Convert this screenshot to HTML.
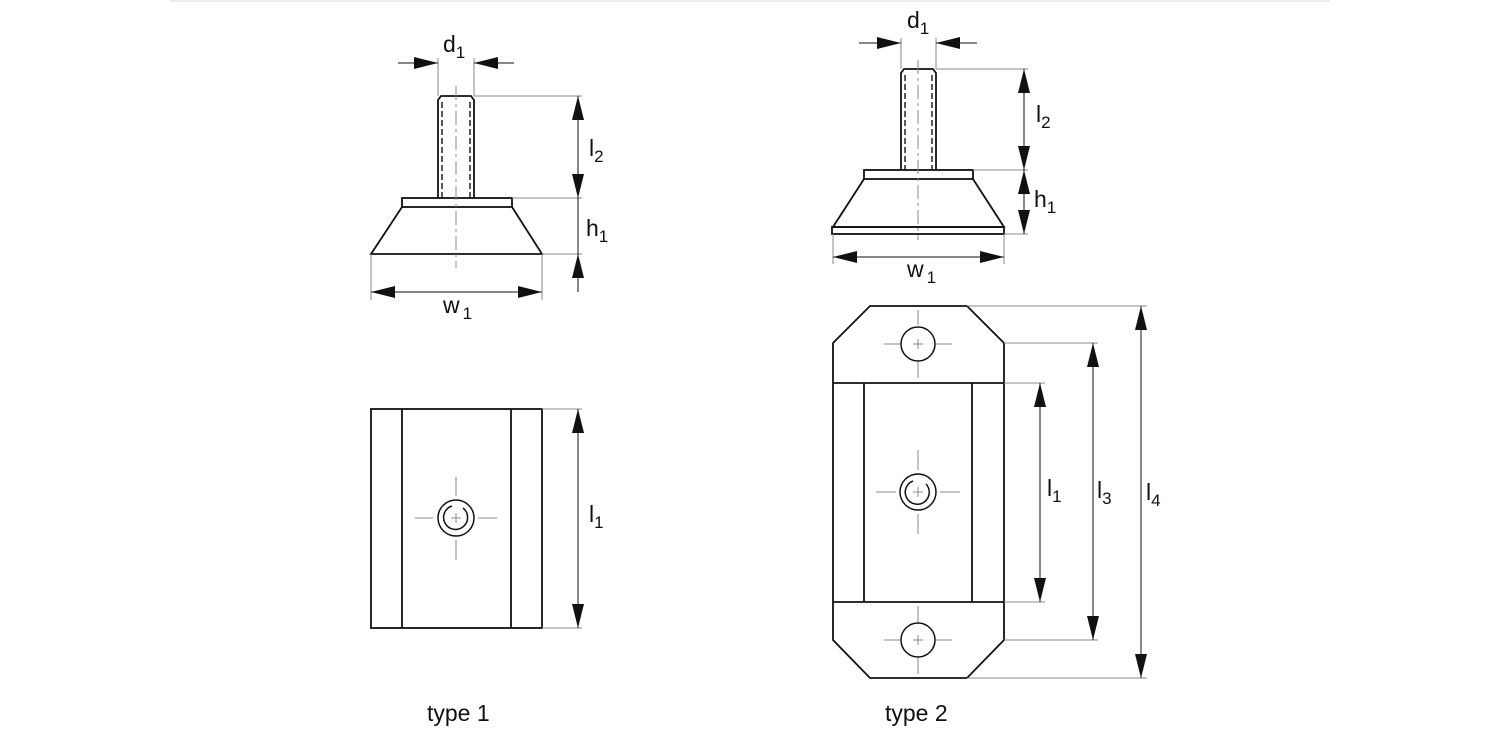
<!DOCTYPE html>
<html><head><meta charset="utf-8"><style>
html,body{margin:0;padding:0;background:#fff;}
svg{display:block;font-family:"Liberation Sans",Arial,sans-serif;}
</style></head><body>
<svg width="1500" height="750" viewBox="0 0 1500 750" xmlns="http://www.w3.org/2000/svg">
<defs>
<marker id="a" viewBox="0 0 24 12" refX="24" refY="6" markerWidth="24" markerHeight="12" markerUnits="userSpaceOnUse" orient="auto-start-reverse">
<path d="M0,0 L24,6 L0,12 Z" fill="#111"/>
</marker>
</defs>
<line x1="170" y1="1" x2="1330" y2="1" stroke="#ddd" stroke-width="1"/>
<g fill="none" stroke="#111" stroke-width="1.8">
<path d="M438,198 V100 L441,96 H471 L474,100 V198"/>
<rect x="402" y="198" width="110" height="9"/>
<path d="M402,207 L371,254 H542 L512,207"/>
<rect x="371" y="409" width="171" height="219"/>
<line x1="402" y1="409" x2="402" y2="628"/>
<line x1="511" y1="409" x2="511" y2="628"/>
<circle cx="456" cy="518" r="18" stroke-width="1.5"/>
<path d="M463,508 A12,12 0 1 1 452,506" stroke-width="1.5"/>
<path d="M901,170 V73 L904,69 H933 L936,73 V170"/>
<rect x="864" y="170" width="109" height="9"/>
<path d="M864,179 L833,227 H1004 L973,179"/>
<rect x="832" y="227" width="172" height="7"/>
<path d="M870,306 H967 L1004,343 V640 L967,678 H870 L833,640 V343 Z"/>
<line x1="833" y1="383" x2="1004" y2="383"/>
<line x1="833" y1="602" x2="1004" y2="602"/>
<line x1="864" y1="383" x2="864" y2="602"/>
<line x1="972" y1="383" x2="972" y2="602"/>
<circle cx="918" cy="344" r="17" stroke-width="1.5"/>
<circle cx="918" cy="640" r="17" stroke-width="1.5"/>
<circle cx="918" cy="492" r="18" stroke-width="1.5"/>
<path d="M926,484 A12,12 0 1 1 913,481" stroke-width="1.5"/>
</g>
<g fill="none" stroke="#111" stroke-width="1.4" stroke-dasharray="6,3">
<line x1="442" y1="102" x2="442" y2="198"/>
<line x1="470" y1="102" x2="470" y2="198"/>
<line x1="905" y1="75" x2="905" y2="170"/>
<line x1="932" y1="75" x2="932" y2="170"/>
</g>
<g fill="none" stroke="#888" stroke-width="1">
<line x1="456" y1="86" x2="456" y2="268" stroke-dasharray="14,4,3,4"/>
<line x1="918" y1="60" x2="918" y2="240" stroke-dasharray="14,4,3,4"/>
<path d="M456,477V496 M456,540V560 M415,518H433 M478,518H497"/>
<path d="M918,450V470 M918,514V534 M876,492H896 M940,492H960"/>
<path d="M918,310V325 M918,362V378 M884,344H900 M936,344H952 M913,344H923 M918,339V349"/>
<path d="M918,606V622 M918,658V674 M884,640H900 M936,640H952 M913,640H923 M918,635V645"/>
<path d="M451,518H461 M456,513V523 M913,492H923 M918,487V497"/>
<path d="M438,96V58 M474,96V58 M474,96H582 M512,198H582 M542,254H582 M371,254V300 M542,254V300"/>
<path d="M542,409H582 M542,628H582"/>
<path d="M901,69V38 M936,69V38 M936,69H1028 M973,170H1028 M1004,234H1028 M833,234V264 M1004,234V264"/>
<path d="M967,306H1147 M967,678H1147 M1004,343H1098 M1004,640H1098 M1004,383H1045 M1004,602H1045"/>
</g>
<g stroke="#111" stroke-width="1" fill="none">
<line x1="398" y1="63" x2="438" y2="63" marker-end="url(#a)"/>
<line x1="514" y1="63" x2="474" y2="63" marker-end="url(#a)"/>
<line x1="578" y1="96" x2="578" y2="198" marker-start="url(#a)" marker-end="url(#a)"/>
<line x1="578" y1="292" x2="578" y2="254" marker-end="url(#a)"/>
<line x1="578" y1="198" x2="578" y2="254"/>
<line x1="371" y1="292" x2="542" y2="292" marker-start="url(#a)" marker-end="url(#a)"/>
<line x1="578" y1="409" x2="578" y2="628" marker-start="url(#a)" marker-end="url(#a)"/>
<line x1="859" y1="43" x2="901" y2="43" marker-end="url(#a)"/>
<line x1="977" y1="43" x2="936" y2="43" marker-end="url(#a)"/>
<line x1="1024" y1="69" x2="1024" y2="170" marker-start="url(#a)" marker-end="url(#a)"/>
<line x1="1024" y1="170" x2="1024" y2="234" marker-start="url(#a)" marker-end="url(#a)"/>
<line x1="833" y1="257" x2="1004" y2="257" marker-start="url(#a)" marker-end="url(#a)"/>
<line x1="1040" y1="383" x2="1040" y2="602" marker-start="url(#a)" marker-end="url(#a)"/>
<line x1="1093" y1="343" x2="1093" y2="640" marker-start="url(#a)" marker-end="url(#a)"/>
<line x1="1141" y1="306" x2="1141" y2="678" marker-start="url(#a)" marker-end="url(#a)"/>
</g>
<g fill="#111" font-size="23">
<text x="443" y="52">d<tspan font-size="17" dy="6">1</tspan></text>
<text x="589" y="156">l<tspan font-size="17" dy="6">2</tspan></text>
<text x="586" y="236">h<tspan font-size="17" dy="6">1</tspan></text>
<text x="443" y="313">w<tspan font-size="17" dy="6" dx="3">1</tspan></text>
<text x="589" y="522">l<tspan font-size="17" dy="6">1</tspan></text>
<text x="907" y="28">d<tspan font-size="17" dy="6">1</tspan></text>
<text x="1036" y="122">l<tspan font-size="17" dy="6">2</tspan></text>
<text x="1034" y="207">h<tspan font-size="17" dy="6">1</tspan></text>
<text x="907" y="277">w<tspan font-size="17" dy="6" dx="3">1</tspan></text>
<text x="1047" y="496">l<tspan font-size="17" dy="6">1</tspan></text>
<text x="1097" y="498">l<tspan font-size="17" dy="6">3</tspan></text>
<text x="1146" y="500">l<tspan font-size="17" dy="6">4</tspan></text>
<text x="427" y="721">type 1</text>
<text x="885" y="721">type 2</text>
</g>
</svg>
</body></html>
